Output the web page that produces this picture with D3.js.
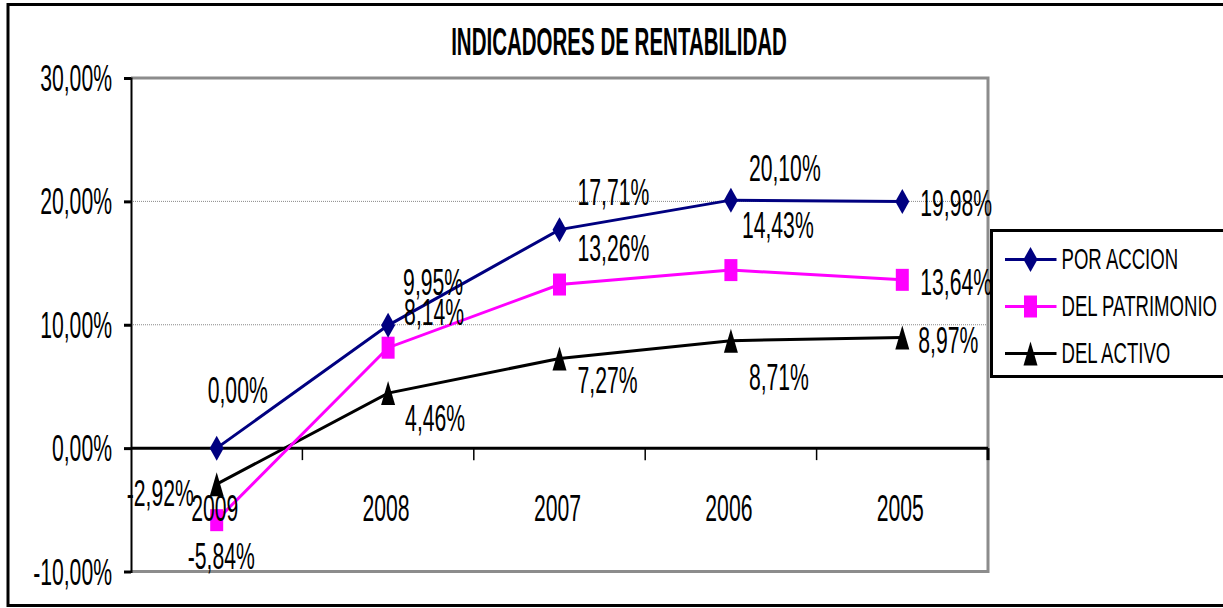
<!DOCTYPE html>
<html>
<head>
<meta charset="utf-8">
<script src="https://cdn.jsdelivr.net/npm/d3@7"></script>
<style>
    html, body { margin: 0; padding: 0; background: #fff; }
    svg { display: block; }
    text { font-family: "Liberation Sans", Arial, sans-serif; fill: #000; }
</style>
</head>
<body>
<div id="chart"></div>
<script>
// Chart data
const years = ['2009', '2008', '2007', '2006', '2005'];
const porAccion = [0.00, 9.95, 17.71, 20.10, 19.98];
const delPatrimonio = [-5.84, 8.14, 13.26, 14.43, 13.64];
const delActivo = [-2.92, 4.46, 7.27, 8.71, 8.97];
const yTicks = [-10, 0, 10, 20, 30];

// Label placement (left edge dx, vertical centre dy from the point)
const offsetsAccion = [[-9, -58], [15, -43], [18, -38], [18, -32], [18, 1]];
const offsetsPatrimonio = [[-29, 36], [16, -36], [18, -37], [11, -45], [18, 2]];
const offsetsActivo = [[-90, 9], [17, 25], [18, 22], [18, 36], [16, 3]];

const series = [
    { name: 'POR ACCION', values: porAccion, color: '#000080', marker: 'diamond', offsets: offsetsAccion },
    { name: 'DEL PATRIMONIO', values: delPatrimonio, color: '#FF00FF', marker: 'square', offsets: offsetsPatrimonio },
    { name: 'DEL ACTIVO', values: delActivo, color: '#000000', marker: 'triangle', offsets: offsetsActivo }
];

const width = 1223;
const height = 608;
const plot = { left: 131, right: 988, top: 78, bottom: 571.5 };

const FONT = 37.5;    // tall, condensed text
const SX = 0.565;
const fmt = v => d3.format('.2f')(v).replace('.', ',').replace('\u2212', '-') + '%';

const svg = d3.select('#chart')
    .append('svg')
    .attr('width', width)
    .attr('height', height);

// Outer border
svg.append('rect')
    .attr('x', 8).attr('y', 4.5)
    .attr('width', 1225).attr('height', 601)
    .attr('fill', 'none')
    .attr('stroke', '#000')
    .attr('stroke-width', 3);

const x = d3.scaleBand()
    .domain(years)
    .range([plot.left, plot.right])
    .padding(0);

const y = d3.scaleLinear()
    .domain([-10, 30])
    .range([plot.bottom, plot.top]);

const cx = d => x(d) + x.bandwidth() / 2;

// Gridlines (dotted)
svg.append('g')
    .selectAll('line')
    .data(yTicks.filter(t => t > 0 && t < 30))
    .join('line')
    .attr('x1', plot.left).attr('x2', plot.right)
    .attr('y1', d => y(d)).attr('y2', d => y(d))
    .attr('stroke', '#888')
    .attr('stroke-width', 1)
    .attr('stroke-dasharray', '1,1');

// Plot area border (gray)
svg.append('path')
    .attr('d', `M${plot.left},${plot.top}H${plot.right}V${plot.bottom}H${plot.left}`)
    .attr('fill', 'none')
    .attr('stroke', '#8c8c8c')
    .attr('stroke-width', 3);

// Y axis
const yAxis = d3.axisLeft(y)
    .tickValues(yTicks)
    .tickSize(7)
    .tickFormat('');
const gy = svg.append('g')
    .attr('transform', `translate(${plot.left},0)`)
    .call(yAxis);
gy.select('.domain').attr('stroke', '#000').attr('stroke-width', 2);
gy.selectAll('.tick line').attr('stroke', '#000').attr('stroke-width', 3);

svg.append('g')
    .selectAll('text')
    .data(yTicks)
    .join('text')
    .attr('text-anchor', 'end')
    .attr('font-size', FONT)
    .attr('transform', d => `translate(112,${y(d) + 13}) scale(${SX},1)`)
    .text(d => fmt(d));

// X axis along zero
const gx = svg.append('g')
    .attr('transform', `translate(0,${y(0)})`);
gx.append('line')
    .attr('x1', plot.left).attr('x2', plot.right)
    .attr('stroke', '#000')
    .attr('stroke-width', 3);
const boundaries = years.map(d => x(d) + x.bandwidth());
gx.selectAll('.xtick')
    .data(boundaries)
    .join('line')
    .attr('class', 'xtick')
    .attr('x1', d => d).attr('x2', d => d)
    .attr('y1', 0).attr('y2', 12)
    .attr('stroke', '#000')
    .attr('stroke-width', (d, i) => i === boundaries.length - 1 ? 3 : 1.5);

// Markers
function markerPath(type) {
    if (type === 'diamond') return 'M0,-12.5L7,0L0,12.5L-7,0Z';
    if (type === 'square') return 'M-6.5,-11H6.5V11H-6.5Z';
    return 'M0,-12L7,12H-7Z';
}

const line = d3.line()
    .x((d, i) => cx(years[i]))
    .y(d => y(d));

// Draw series from back to front
series.slice().reverse().forEach(s => {
    const g = svg.append('g').attr('class', 'series');
    g.append('path')
        .datum(s.values)
        .attr('d', line)
        .attr('fill', 'none')
        .attr('stroke', s.color)
        .attr('stroke-width', 3);
    g.selectAll('path.mk')
        .data(s.values)
        .join('path')
        .attr('class', 'mk')
        .attr('d', markerPath(s.marker))
        .attr('transform', (d, i) => `translate(${cx(years[i])},${y(d)})`)
        .attr('fill', s.color);
});

// Data labels
series.forEach(s => {
    svg.append('g')
        .selectAll('text')
        .data(s.values)
        .join('text')
        .attr('font-size', FONT)
        .attr('transform', (d, i) => {
            const o = s.offsets[i];
            return `translate(${cx(years[i]) + o[0]},${y(d) + o[1] + 13}) scale(${SX},1)`;
        })
        .text(d => fmt(d));
});

// Category labels
svg.append('g')
    .selectAll('text')
    .data(years)
    .join('text')
    .attr('text-anchor', 'middle')
    .attr('font-size', FONT)
    .attr('transform', d => `translate(${cx(d) - 2},521) scale(${SX},1)`)
    .text(d => d);

// Title
svg.append('text')
    .attr('text-anchor', 'middle')
    .attr('font-size', 38)
    .attr('font-weight', 'bold')
    .attr('transform', `translate(619,55) scale(0.54,1)`)
    .text('INDICADORES DE RENTABILIDAD');

// Legend
const legend = svg.append('g').attr('transform', 'translate(991.5,230.5)');
legend.append('rect')
    .attr('width', 240).attr('height', 146)
    .attr('fill', '#fff')
    .attr('stroke', '#000')
    .attr('stroke-width', 3);

const item = legend.selectAll('g.item')
    .data(series)
    .join('g')
    .attr('class', 'item')
    .attr('transform', (d, i) => `translate(0,${29 + i * 47})`);
item.append('line')
    .attr('x1', 13.5).attr('x2', 65)
    .attr('stroke', d => d.color)
    .attr('stroke-width', 3);
item.append('path')
    .attr('d', d => markerPath(d.marker))
    .attr('transform', 'translate(39,0)')
    .attr('fill', d => d.color);
item.append('text')
    .attr('font-size', 29.5)
    .attr('transform', 'translate(70,9.5) scale(0.63,1)')
    .text(d => d.name);
</script>
</body>
</html>
